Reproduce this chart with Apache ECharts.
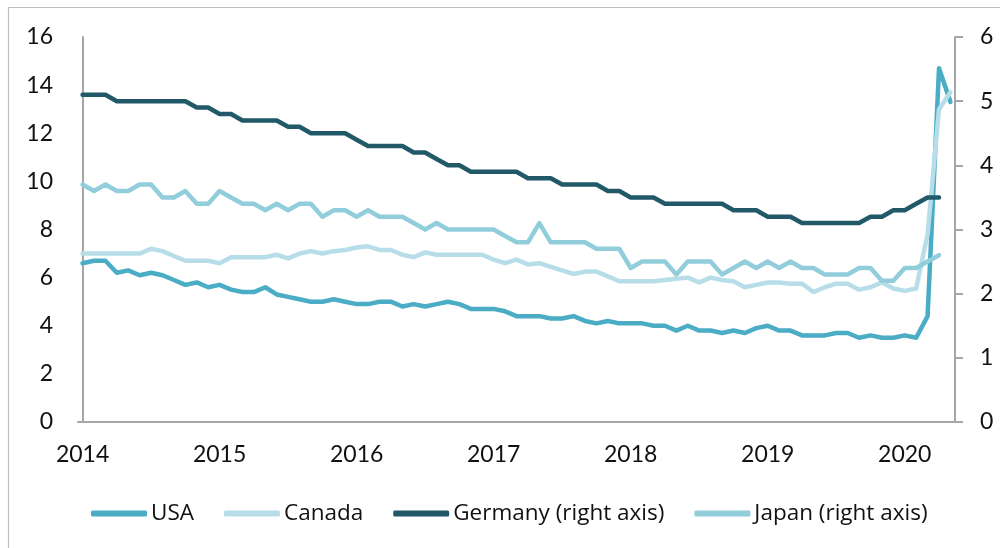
<!DOCTYPE html>
<html>
<head>
<meta charset="utf-8">
<script src="https://cdn.jsdelivr.net/npm/echarts@6/dist/echarts.min.js"></script>
<style>
    * {margin: 0; padding: 0;}
    html, body {background: #fff;}
    #main {width: 1000px; height: 548px;}
</style>
</head>
<body>
<div id="main"></div>
<script type="text/javascript">
// monthly, Jan 2014 .. May 2020 (index 0 = Jan 2014)
var YEARS = ['2014', '2015', '2016', '2017', '2018', '2019', '2020'];

// unemployment rate, left axis
var USA = [
    6.6, 6.7, 6.7, 6.2, 6.3, 6.1, 6.2, 6.1, 5.9, 5.7, 5.8, 5.6,
    5.7, 5.5, 5.4, 5.4, 5.6, 5.3, 5.2, 5.1, 5.0, 5.0, 5.1, 5.0,
    4.9, 4.9, 5.0, 5.0, 4.8, 4.9, 4.8, 4.9, 5.0, 4.9, 4.7, 4.7,
    4.7, 4.6, 4.4, 4.4, 4.4, 4.3, 4.3, 4.4, 4.2, 4.1, 4.2, 4.1,
    4.1, 4.1, 4.0, 4.0, 3.8, 4.0, 3.8, 3.8, 3.7, 3.8, 3.7, 3.9,
    4.0, 3.8, 3.8, 3.6, 3.6, 3.6, 3.7, 3.7, 3.5, 3.6, 3.5, 3.5,
    3.6, 3.5, 4.4, 14.7, 13.3
];
var CANADA = [
    7.0, 7.0, 7.0, 7.0, 7.0, 7.0, 7.2, 7.1, 6.9, 6.7, 6.7, 6.7,
    6.6, 6.85, 6.85, 6.85, 6.85, 6.95, 6.8, 7.0, 7.1, 7.0, 7.1, 7.15,
    7.25, 7.3, 7.15, 7.15, 6.95, 6.85, 7.05, 6.95, 6.95, 6.95, 6.95, 6.95,
    6.75, 6.6, 6.75, 6.55, 6.6, 6.45, 6.3, 6.15, 6.25, 6.25, 6.05, 5.85,
    5.85, 5.85, 5.85, 5.9, 5.95, 6.0, 5.8, 6.0, 5.9, 5.85, 5.6, 5.7,
    5.8, 5.8, 5.75, 5.75, 5.4, 5.6, 5.75, 5.75, 5.5, 5.6, 5.8, 5.55,
    5.45, 5.55, 7.8, 13.0, 13.7
];

// right axis
var GERMANY = [
    5.1, 5.1, 5.1, 5.0, 5.0, 5.0, 5.0, 5.0, 5.0, 5.0, 4.9, 4.9,
    4.8, 4.8, 4.7, 4.7, 4.7, 4.7, 4.6, 4.6, 4.5, 4.5, 4.5, 4.5,
    4.4, 4.3, 4.3, 4.3, 4.3, 4.2, 4.2, 4.1, 4.0, 4.0, 3.9, 3.9,
    3.9, 3.9, 3.9, 3.8, 3.8, 3.8, 3.7, 3.7, 3.7, 3.7, 3.6, 3.6,
    3.5, 3.5, 3.5, 3.4, 3.4, 3.4, 3.4, 3.4, 3.4, 3.3, 3.3, 3.3,
    3.2, 3.2, 3.2, 3.1, 3.1, 3.1, 3.1, 3.1, 3.1, 3.2, 3.2, 3.3,
    3.3, 3.4, 3.5, 3.5
];
var JAPAN = [
    3.7, 3.6, 3.7, 3.6, 3.6, 3.7, 3.7, 3.5, 3.5, 3.6, 3.4, 3.4,
    3.6, 3.5, 3.4, 3.4, 3.3, 3.4, 3.3, 3.4, 3.4, 3.2, 3.3, 3.3,
    3.2, 3.3, 3.2, 3.2, 3.2, 3.1, 3.0, 3.1, 3.0, 3.0, 3.0, 3.0,
    3.0, 2.9, 2.8, 2.8, 3.1, 2.8, 2.8, 2.8, 2.8, 2.7, 2.7, 2.7,
    2.4, 2.5, 2.5, 2.5, 2.3, 2.5, 2.5, 2.5, 2.3, 2.4, 2.5, 2.4,
    2.5, 2.4, 2.5, 2.4, 2.4, 2.3, 2.3, 2.3, 2.4, 2.4, 2.2, 2.2,
    2.4, 2.4, 2.5, 2.6
];

var LEFT_TICKS = [0, 2, 4, 6, 8, 10, 12, 14, 16];
var RIGHT_TICKS = [0, 1, 2, 3, 4, 5, 6];

var FONT = 'Lato';
var LEGEND_FONT = 'Open Sans';
var AXIS_COLOR = '#a6a6a6';

function toPoints(list) {
    return list.map(function (v, i) {
        return [i, v];
    });
}

function lineSeries(name, list, color, axis) {
    return {
        name: name,
        type: 'line',
        yAxisIndex: axis,
        data: toPoints(list),
        showSymbol: false,
        symbol: 'none',
        color: color,
        lineStyle: {width: 4.5, color: color, cap: 'round', join: 'round'},
        emphasis: {disabled: true}
    };
}

var chart = echarts.init(document.getElementById('main'), null, {renderer: 'canvas'});

chart.setOption({
    animation: false,
    backgroundColor: '#fff',
    textStyle: {fontFamily: FONT},
    graphic: [{
        type: 'rect',
        shape: {x: 8.5, y: 7.5, width: 1100, height: 700},
        style: {fill: 'none', stroke: '#c0c0c0', lineWidth: 1.2},
        silent: true
    }],
    grid: {left: 78, right: 45, top: 37, bottom: 126},
    legend: {
        left: 86,
        top: 497,
        icon: 'roundRect',
        itemWidth: 56,
        itemHeight: 6,
        itemGap: 30,
        textStyle: {fontFamily: LEGEND_FONT, fontSize: 22.5, color: '#111', padding: [0, 0, 0, -1]},
        data: ['USA', 'Canada', 'Germany (right axis)', 'Japan (right axis)']
    },
    xAxis: {
        type: 'value',
        min: -0.4,
        max: 76.4,
        axisLine: {lineStyle: {color: AXIS_COLOR, width: 2}},
        axisTick: {show: false},
        splitLine: {show: false},
        axisLabel: {
            customValues: YEARS.map(function (y, i) {
                return i * 12;
            }),
            formatter: function (v) {
                return YEARS[Math.round(v / 12)];
            },
            margin: 21,
            fontFamily: FONT,
            fontSize: 23,
            color: '#111'
        }
    },
    yAxis: [{
        type: 'value',
        position: 'left',
        min: 0,
        max: 16,
        interval: 2,
        axisLine: {show: true, lineStyle: {color: AXIS_COLOR, width: 2}},
        axisTick: {show: false},
        splitLine: {show: false},
        axisLabel: {
            customValues: LEFT_TICKS,
            margin: 25,
            fontFamily: FONT,
            fontSize: 23,
            color: '#111'
        }
    }, {
        type: 'value',
        position: 'right',
        min: 0,
        max: 6,
        interval: 1,
        axisLine: {show: true, lineStyle: {color: AXIS_COLOR, width: 2}},
        axisTick: {show: true, length: 8, lineStyle: {color: AXIS_COLOR, width: 2}},
        splitLine: {show: false},
        axisLabel: {
            customValues: RIGHT_TICKS,
            margin: 25,
            fontFamily: FONT,
            fontSize: 23,
            color: '#111'
        }
    }],
    series: [
        lineSeries('USA', USA, '#4bacc6', 0),
        lineSeries('Canada', CANADA, '#b7dee8', 0),
        lineSeries('Germany (right axis)', GERMANY, '#215968', 1),
        lineSeries('Japan (right axis)', JAPAN, '#92cddc', 1)
    ]
});
</script>
</body>
</html>
